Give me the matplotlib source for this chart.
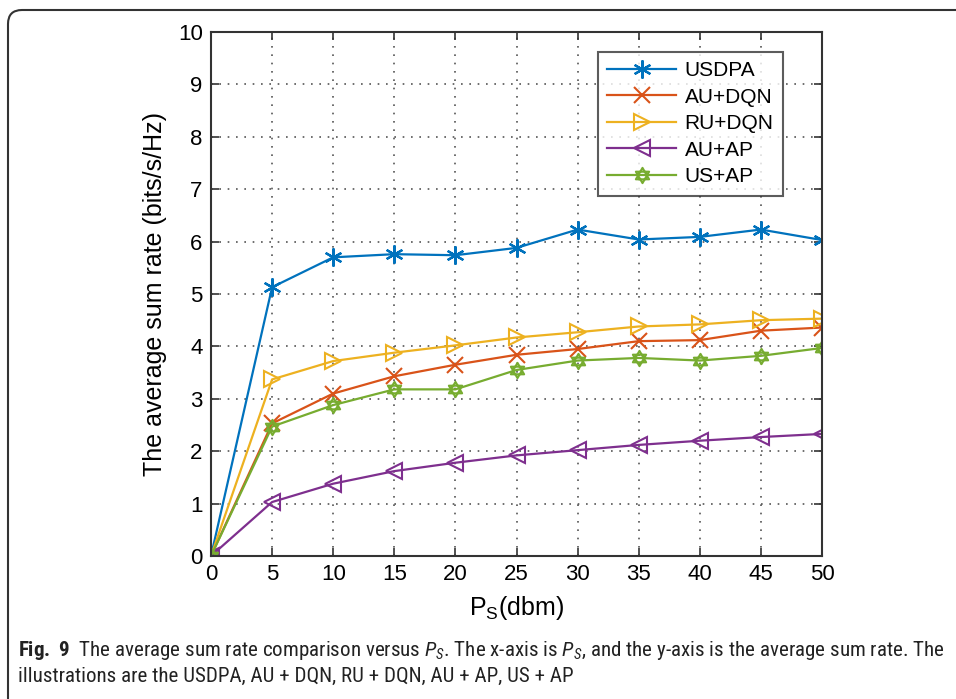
import matplotlib
matplotlib.use('Agg')
import matplotlib.pyplot as plt
from matplotlib.path import Path
from matplotlib.patches import FancyBboxPatch
from matplotlib.transforms import IdentityTransform

# data
ps = [0, 5, 10, 15, 20, 25, 30, 35, 40, 45, 50]
usdpa = [0, 5.13, 5.70, 5.76, 5.74, 5.88, 6.23, 6.04, 6.09, 6.23, 6.03]
au_dqn = [0, 2.53, 3.10, 3.43, 3.65, 3.84, 3.95, 4.10, 4.12, 4.30, 4.36]
ru_dqn = [0, 3.37, 3.72, 3.88, 4.02, 4.17, 4.27, 4.38, 4.42, 4.50, 4.53]
au_ap = [0, 1.03, 1.38, 1.62, 1.78, 1.92, 2.02, 2.12, 2.20, 2.27, 2.33]
us_ap = [0, 2.47, 2.88, 3.18, 3.18, 3.55, 3.73, 3.78, 3.73, 3.82, 3.97]
names = ['USDPA', 'AU+DQN', 'RU+DQN', 'AU+AP', 'US+AP']
xticks = list(range(0, 55, 5))
yticks = list(range(0, 11))

plt.rcParams['font.family'] = ['Liberation Sans', 'DejaVu Sans']
plt.rcParams['mathtext.fontset'] = 'custom'
plt.rcParams['mathtext.rm'] = 'Roboto Condensed'
plt.rcParams['mathtext.it'] = 'Roboto Condensed:italic'
plt.rcParams['mathtext.bf'] = 'Roboto Condensed:bold'

# hexagram marker (two triangles)
hexa = Path([(0, 1), (0.866, -0.5), (-0.866, -0.5), (0, 1),
             (0, -1), (0.866, 0.5), (-0.866, 0.5), (0, -1)],
            [Path.MOVETO, Path.LINETO, Path.LINETO, Path.CLOSEPOLY,
             Path.MOVETO, Path.LINETO, Path.LINETO, Path.CLOSEPOLY])

colors = ['#0072BD', '#D95319', '#EDB120', '#7E2F8E', '#77AC30']
markers = ['*', 'x', '>', '<', hexa]
msizes = [13, 11, 12, 12, 11]
series = [usdpa, au_dqn, ru_dqn, au_ap, us_ap]

fig = plt.figure(figsize=(9.56, 6.99), dpi=100)
ax = fig.add_axes([211 / 956, 1 - 556 / 699, 611 / 956, 524 / 699])

for ys, c, m, s, n in zip(series, colors, markers, msizes, names):
    if m == '*':
        ax.plot(ps, ys, color=c, lw=1.6, marker=(6, 2, 0), ms=s, mew=1.6, label=n)
    else:
        ax.plot(ps, ys, color=c, lw=1.6, marker=m, ms=s, mew=1.5,
                mfc='none', mec=c, label=n)

ax.set_xlim(0, 50)
ax.set_ylim(0, 10)
ax.set_xticks(xticks)
ax.set_yticks(yticks)
ax.tick_params(direction='in', length=6, width=1.2, labelsize=16, top=True, right=True,
               color='#333333', pad=6)
ax.grid(True, linestyle=(0, (1, 4)), color='#555555', lw=1.2)
for sp in ax.spines.values():
    sp.set_linewidth(1.5)
    sp.set_color('#333333')

ax.set_ylabel('The average sum rate (bits/s/Hz)', fontsize=18, labelpad=8)
ax.set_xlabel(r'P$_\mathregular{S}$(dbm)', fontsize=18, labelpad=6)

leg = ax.legend(loc='upper right', bbox_to_anchor=(0.936, 0.962), borderaxespad=0,
                fontsize=15, frameon=True, fancybox=False, edgecolor='#333333',
                handlelength=3.3, borderpad=0.45, labelspacing=0.36, handletextpad=0.4)
leg.get_frame().set_linewidth(1.5)

# caption
cap1 = (r'$\mathbf{Fig.\ 9}$  The average sum rate comparison versus $P_S$. '
        r'The x-axis is $P_S$, and the y-axis is the average sum rate. The')
cap2 = 'illustrations are the USDPA, AU + DQN, RU + DQN, AU + AP, US + AP'
fig.text(18 / 956, 1 - 656 / 699, cap1, fontsize=15.1,
         family=['Roboto Condensed', 'Roboto', 'DejaVu Sans'], color='#222222')
fig.text(18 / 956, 1 - 682 / 699, cap2, fontsize=15.1,
         family=['Roboto Condensed', 'Roboto', 'DejaVu Sans'], color='#222222')

# rounded frame around the figure
frame = FancyBboxPatch((8, -20), 1100, 709, boxstyle='round,pad=0,rounding_size=14',
                       transform=IdentityTransform(), fill=False, lw=1.5, ec='#333333')
fig.patches.append(frame)

fig.savefig('out.png', dpi=100)
